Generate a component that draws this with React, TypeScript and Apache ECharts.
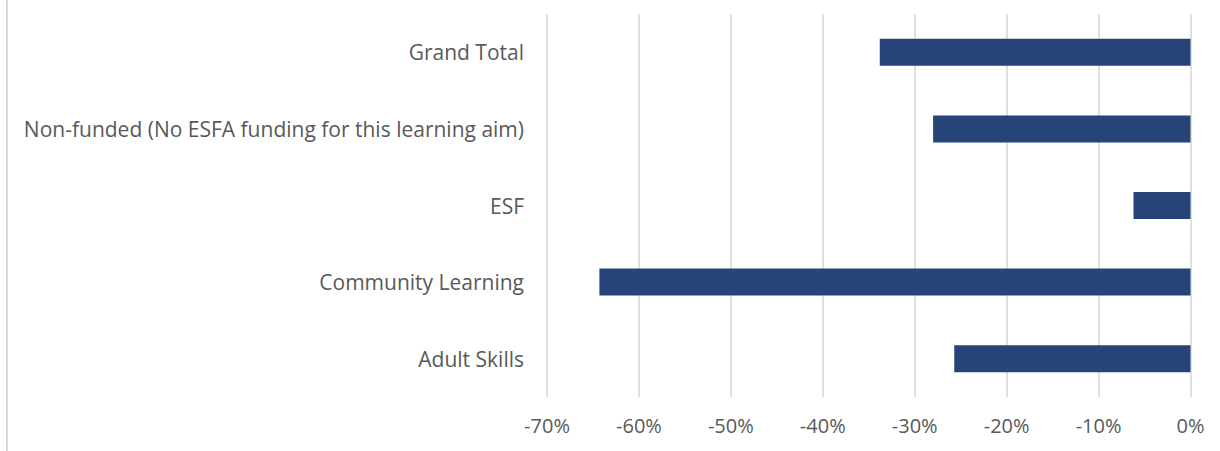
import React, { useEffect, useRef } from "react";
import * as echarts from "echarts";

const categories = [
  "Adult Skills",
  "Community Learning",
  "ESF",
  "Non-funded (No ESFA funding for this learning aim)",
  "Grand Total",
];
const values = [-25.7, -64.3, -6.2, -28.0, -33.8];
const tickMin = -70;
const tickMax = 0;
const tickStep = 10;

export default function App() {
  const ref = useRef<HTMLDivElement>(null);
  useEffect(() => {
    if (!ref.current) return;
    const chart = echarts.init(ref.current, null, { renderer: "svg" });
    const font = "'Open Sans', sans-serif";
    chart.setOption({
      animation: false,
      grid: { left: 547, right: 29.5, top: 14, bottom: 54, containLabel: false },
      xAxis: {
        type: "value",
        min: tickMin,
        max: tickMax,
        interval: tickStep,
        axisLine: { show: false },
        axisTick: { show: false },
        splitLine: { show: true, lineStyle: { color: "#d9d9d9", width: 1.6 } },
        axisLabel: {
          formatter: (v: number) => `${v}%`,
          color: "#595959",
          fontFamily: font,
          fontSize: 20,
          margin: 18,
        },
      },
      yAxis: {
        type: "category",
        data: categories,
        axisLine: { show: false },
        axisTick: { show: false },
        splitLine: { show: false },
        axisLabel: {
          color: "#595959",
          fontFamily: font,
          fontSize: 21,
          margin: 23,
        },
      },
      graphic: [
        {
          type: "line",
          shape: { x1: 7, y1: 0, x2: 7, y2: 451 },
          style: { stroke: "#d9d9d9", lineWidth: 2 },
        },
      ],
      series: [
        {
          type: "bar",
          data: values,
          barWidth: 27,
          itemStyle: { color: "#264478" },
        },
      ],
    });
    return () => chart.dispose();
  }, []);
  return (
    <div
      ref={ref}
      style={{ position: "absolute", left: 0, top: 0, width: 1220, height: 451, background: "#fff" }}
    />
  );
}
